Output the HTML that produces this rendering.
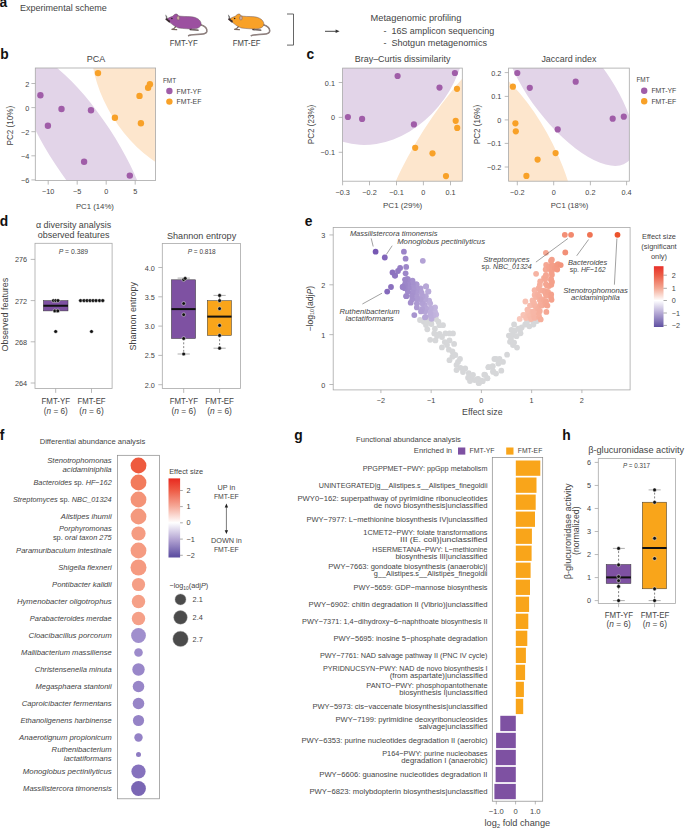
<!DOCTYPE html>
<html><head><meta charset="utf-8"><style>
html,body{margin:0;padding:0;background:#fff;}
svg{display:block;font-family:"Liberation Sans",sans-serif;}
</style></head><body>
<svg width="685" height="829" viewBox="0 0 685 829" fill="#444444">
<text x="-0.40" y="6.80" font-size="13.8" font-weight="bold" fill="#111">a</text>
<text x="20.00" y="11.00" font-size="9" textLength="86.80" lengthAdjust="spacingAndGlyphs">Experimental scheme</text>
<g transform="translate(161.3 10)">
<path d="M39.3 14.8 C43.8 15.8 46.3 18.7 45.5 21.7 C44.7 24.2 40.5 24.4 35 24.5 C31 24.6 28.5 24.9 27.3 25.7" fill="none" stroke="#7e6f6d" stroke-width="1.5" stroke-linecap="round"/>
<path d="M39.3 14.8 C43.8 15.8 46.3 18.7 45.5 21.7 C44.7 24.2 40.5 24.4 35 24.5 C31 24.6 28.5 24.9 27.3 25.7" fill="none" stroke="#a09290" stroke-width="0.6" stroke-linecap="round"/>
<path d="M14.5 16.5 L12.6 18.6 L10.6 19.3 L15.4 19.7" fill="none" stroke="#7a675e" stroke-width="1.2" stroke-linecap="round" stroke-linejoin="round"/><path d="M30 18.2 L28.8 19.6 L36.8 20.2" fill="none" stroke="#4a3c3a" stroke-width="1.3" stroke-linecap="round" stroke-linejoin="round"/>
<path d="M5.0 9.6 C6.2 8.4 8.5 7.2 11.2 6.3 C12.4 5.3 13.3 4.2 14.6 4.0 C15.8 3.9 16.6 4.6 16.9 5.8 C20 6.5 25 6.5 30 6.7 C35.5 7.3 39.5 10 39.8 13.6 C40 16.6 37.5 18.4 33 18.8 C28 19.1 22 18.6 17.5 18 C14.5 17.2 12 15.3 10 13.6 C8.5 12.3 6.5 11.4 5.0 9.6 Z" fill="#9c50a0" stroke="#5c4a55" stroke-width="0.45"/>
<ellipse cx="16.9" cy="8.0" rx="1.45" ry="2.0" fill="#c9aa9f" stroke="#6a5a5a" stroke-width="0.4"/>
<circle cx="10.6" cy="8.6" r="0.75" fill="#222"/>
<path d="M5.6 9.6 L4.4 4.8 M6 9.4 L5.2 5.8 M5.8 10 L7.2 11.8 M6.6 11 L8.4 13" stroke="#333" stroke-width="0.55" fill="none"/>
<path d="M5 9.2 L6.8 10.4 L8 11.2" stroke="#3a2a30" stroke-width="1.7" fill="none" stroke-linecap="round"/>
</g>
<g transform="translate(224 10)">
<path d="M39.3 14.8 C43.8 15.8 46.3 18.7 45.5 21.7 C44.7 24.2 40.5 24.4 35 24.5 C31 24.6 28.5 24.9 27.3 25.7" fill="none" stroke="#7e6f6d" stroke-width="1.5" stroke-linecap="round"/>
<path d="M39.3 14.8 C43.8 15.8 46.3 18.7 45.5 21.7 C44.7 24.2 40.5 24.4 35 24.5 C31 24.6 28.5 24.9 27.3 25.7" fill="none" stroke="#a09290" stroke-width="0.6" stroke-linecap="round"/>
<path d="M14.5 16.5 L12.6 18.6 L10.6 19.3 L15.4 19.7" fill="none" stroke="#7a675e" stroke-width="1.2" stroke-linecap="round" stroke-linejoin="round"/><path d="M30 18.2 L28.8 19.6 L36.8 20.2" fill="none" stroke="#4a3c3a" stroke-width="1.3" stroke-linecap="round" stroke-linejoin="round"/>
<path d="M5.0 9.6 C6.2 8.4 8.5 7.2 11.2 6.3 C12.4 5.3 13.3 4.2 14.6 4.0 C15.8 3.9 16.6 4.6 16.9 5.8 C20 6.5 25 6.5 30 6.7 C35.5 7.3 39.5 10 39.8 13.6 C40 16.6 37.5 18.4 33 18.8 C28 19.1 22 18.6 17.5 18 C14.5 17.2 12 15.3 10 13.6 C8.5 12.3 6.5 11.4 5.0 9.6 Z" fill="#f8a128" stroke="#5c4a55" stroke-width="0.45"/>
<ellipse cx="16.9" cy="8.0" rx="1.45" ry="2.0" fill="#c9aa9f" stroke="#6a5a5a" stroke-width="0.4"/>
<circle cx="10.6" cy="8.6" r="0.75" fill="#222"/>
<path d="M5.6 9.6 L4.4 4.8 M6 9.4 L5.2 5.8 M5.8 10 L7.2 11.8 M6.6 11 L8.4 13" stroke="#333" stroke-width="0.55" fill="none"/>
<path d="M5 9.2 L6.8 10.4 L8 11.2" stroke="#3a2a30" stroke-width="1.7" fill="none" stroke-linecap="round"/>
</g>
<text x="169.70" y="46.00" font-size="8.4" textLength="28.00" lengthAdjust="spacingAndGlyphs">FMT-YF</text>
<text x="232.70" y="46.00" font-size="8.4" textLength="27.80" lengthAdjust="spacingAndGlyphs">FMT-EF</text>
<path d="M287 14 H293.5 V45.1 H287" fill="none" stroke="#555" stroke-width="0.9"/>
<line x1="325.00" y1="31.30" x2="337.00" y2="31.30" stroke="#333" stroke-width="0.9"/>
<path d="M339.6 31.3 L335.6 29.6 L335.6 33 Z" fill="#333"/>
<text x="370.60" y="21.00" font-size="9" textLength="90.80" lengthAdjust="spacingAndGlyphs">Metagenomic profiling</text>
<text x="383.40" y="33.90" font-size="9">-</text>
<text x="391.40" y="33.90" font-size="9" textLength="102.80" lengthAdjust="spacingAndGlyphs">16S amplicon sequencing</text>
<text x="383.40" y="46.10" font-size="9">-</text>
<text x="391.40" y="46.10" font-size="9" textLength="95.60" lengthAdjust="spacingAndGlyphs">Shotgun metagenomics</text>
<text x="0.20" y="58.70" font-size="13.8" font-weight="bold" fill="#111">b</text>
<clipPath id="cpb"><rect x="35.3" y="68" width="120.3" height="112.5"/></clipPath>
<g clip-path="url(#cpb)"><ellipse cx="82.33" cy="146.61" rx="32.35" ry="108.99" fill="#e2d4e8" transform="rotate(-33.3 82.33 146.61)"/><ellipse cx="165" cy="85" rx="98.73" ry="61.35" fill="#fde6cd" transform="rotate(-121.83 165 85)"/></g>
<rect x="35.30" y="68.00" width="120.30" height="112.50" fill="none" stroke="#a8a8a8" stroke-width="0.8"/>
<line x1="31.40" y1="83.50" x2="35.30" y2="83.50" stroke="#a8a8a8" stroke-width="0.8"/>
<text x="29.30" y="86.50" font-size="7.3" text-anchor="end">2</text>
<line x1="31.40" y1="107.60" x2="35.30" y2="107.60" stroke="#a8a8a8" stroke-width="0.8"/>
<text x="29.30" y="110.60" font-size="7.3" text-anchor="end">0</text>
<line x1="31.40" y1="131.70" x2="35.30" y2="131.70" stroke="#a8a8a8" stroke-width="0.8"/>
<text x="29.30" y="134.70" font-size="7.3" text-anchor="end">−2</text>
<line x1="31.40" y1="155.80" x2="35.30" y2="155.80" stroke="#a8a8a8" stroke-width="0.8"/>
<text x="29.30" y="158.80" font-size="7.3" text-anchor="end">−4</text>
<line x1="31.40" y1="179.90" x2="35.30" y2="179.90" stroke="#a8a8a8" stroke-width="0.8"/>
<text x="29.30" y="182.90" font-size="7.3" text-anchor="end">−6</text>
<line x1="48.20" y1="180.50" x2="48.20" y2="184.60" stroke="#a8a8a8" stroke-width="0.8"/>
<text x="48.20" y="194.00" font-size="7.3" text-anchor="middle">−10</text>
<line x1="77.20" y1="180.50" x2="77.20" y2="184.60" stroke="#a8a8a8" stroke-width="0.8"/>
<text x="77.20" y="194.00" font-size="7.3" text-anchor="middle">−5</text>
<line x1="106.20" y1="180.50" x2="106.20" y2="184.60" stroke="#a8a8a8" stroke-width="0.8"/>
<text x="106.20" y="194.00" font-size="7.3" text-anchor="middle">0</text>
<line x1="135.20" y1="180.50" x2="135.20" y2="184.60" stroke="#a8a8a8" stroke-width="0.8"/>
<text x="135.20" y="194.00" font-size="7.3" text-anchor="middle">5</text>
<circle cx="40.40" cy="95.20" r="3.20" fill="#a05da8"/>
<circle cx="47.90" cy="125.70" r="3.20" fill="#a05da8"/>
<circle cx="61.50" cy="109.00" r="3.20" fill="#a05da8"/>
<circle cx="91.00" cy="110.30" r="3.20" fill="#a05da8"/>
<circle cx="84.10" cy="161.70" r="3.20" fill="#a05da8"/>
<circle cx="129.80" cy="175.60" r="3.20" fill="#a05da8"/>
<circle cx="98.00" cy="73.10" r="3.20" fill="#f8a128"/>
<circle cx="114.90" cy="117.70" r="3.20" fill="#f8a128"/>
<circle cx="139.50" cy="95.90" r="3.20" fill="#f8a128"/>
<circle cx="140.90" cy="123.20" r="3.20" fill="#f8a128"/>
<circle cx="148.10" cy="87.70" r="3.20" fill="#f8a128"/>
<circle cx="149.90" cy="84.20" r="3.20" fill="#f8a128"/>
<text x="96.00" y="61.70" font-size="9" text-anchor="middle">PCA</text>
<text x="94.90" y="209.00" font-size="8" text-anchor="middle" textLength="38.00" lengthAdjust="spacingAndGlyphs">PC1 (14%)</text>
<text x="13.30" y="125.70" font-size="8.7" text-anchor="middle" textLength="39.60" lengthAdjust="spacingAndGlyphs" transform="rotate(-90 13.30 125.70)">PC2 (10%)</text>
<text x="162.90" y="82.80" font-size="7.6" textLength="13.20" lengthAdjust="spacingAndGlyphs">FMT</text>
<circle cx="169.40" cy="91.00" r="3.20" fill="#a05da8"/>
<text x="176.50" y="93.60" font-size="7.6" textLength="24.90" lengthAdjust="spacingAndGlyphs">FMT-YF</text>
<circle cx="169.40" cy="101.60" r="3.20" fill="#f8a128"/>
<text x="176.50" y="104.20" font-size="7.6" textLength="24.90" lengthAdjust="spacingAndGlyphs">FMT-EF</text>
<text x="306.50" y="59.30" font-size="13.8" font-weight="bold" fill="#111">c</text>
<clipPath id="cpc"><rect x="342.6" y="68.1" width="119.69999999999999" height="113.1"/></clipPath>
<g clip-path="url(#cpc)"><ellipse cx="379.91" cy="49.29" rx="100.18" ry="80.97" fill="#e2d4e8" transform="rotate(-59.5 379.91 49.29)"/><ellipse cx="480" cy="150" rx="159.33" ry="57.96" fill="#fde6cd" transform="rotate(-55.27 480 150)"/></g>
<rect x="342.60" y="68.10" width="119.70" height="113.10" fill="none" stroke="#a8a8a8" stroke-width="0.8"/>
<line x1="338.70" y1="82.50" x2="342.60" y2="82.50" stroke="#a8a8a8" stroke-width="0.8"/>
<text x="335.00" y="85.50" font-size="7.3" text-anchor="end">0.1</text>
<line x1="338.70" y1="117.40" x2="342.60" y2="117.40" stroke="#a8a8a8" stroke-width="0.8"/>
<text x="335.00" y="120.40" font-size="7.3" text-anchor="end">0</text>
<line x1="338.70" y1="152.30" x2="342.60" y2="152.30" stroke="#a8a8a8" stroke-width="0.8"/>
<text x="335.00" y="155.30" font-size="7.3" text-anchor="end">−0.1</text>
<line x1="342.60" y1="181.20" x2="342.60" y2="185.30" stroke="#a8a8a8" stroke-width="0.8"/>
<text x="342.60" y="194.80" font-size="7.3" text-anchor="middle">−0.3</text>
<line x1="369.50" y1="181.20" x2="369.50" y2="185.30" stroke="#a8a8a8" stroke-width="0.8"/>
<text x="369.50" y="194.80" font-size="7.3" text-anchor="middle">−0.2</text>
<line x1="396.50" y1="181.20" x2="396.50" y2="185.30" stroke="#a8a8a8" stroke-width="0.8"/>
<text x="396.50" y="194.80" font-size="7.3" text-anchor="middle">−0.1</text>
<line x1="423.40" y1="181.20" x2="423.40" y2="185.30" stroke="#a8a8a8" stroke-width="0.8"/>
<text x="423.40" y="194.80" font-size="7.3" text-anchor="middle">0</text>
<line x1="450.50" y1="181.20" x2="450.50" y2="185.30" stroke="#a8a8a8" stroke-width="0.8"/>
<text x="450.50" y="194.80" font-size="7.3" text-anchor="middle">0.1</text>
<circle cx="347.90" cy="117.00" r="3.10" fill="#a05da8"/>
<circle cx="362.10" cy="118.90" r="3.10" fill="#a05da8"/>
<circle cx="397.60" cy="76.00" r="3.10" fill="#a05da8"/>
<circle cx="413.90" cy="124.40" r="3.10" fill="#a05da8"/>
<circle cx="439.50" cy="87.60" r="3.10" fill="#a05da8"/>
<circle cx="454.90" cy="73.00" r="3.10" fill="#a05da8"/>
<circle cx="457.00" cy="88.80" r="3.10" fill="#f8a128"/>
<circle cx="455.70" cy="120.80" r="3.10" fill="#f8a128"/>
<circle cx="457.20" cy="127.90" r="3.10" fill="#f8a128"/>
<circle cx="415.20" cy="147.80" r="3.10" fill="#f8a128"/>
<circle cx="432.50" cy="153.30" r="3.10" fill="#f8a128"/>
<circle cx="446.00" cy="176.10" r="3.10" fill="#f8a128"/>
<text x="402.55" y="62.20" font-size="9" text-anchor="middle" textLength="95.70" lengthAdjust="spacingAndGlyphs">Bray–Curtis dissimilarity</text>
<text x="402.60" y="207.80" font-size="8" text-anchor="middle" textLength="39.20" lengthAdjust="spacingAndGlyphs">PC1 (29%)</text>
<text x="313.90" y="124.45" font-size="8.7" text-anchor="middle" textLength="39.40" lengthAdjust="spacingAndGlyphs" transform="rotate(-90 313.90 124.45)">PC2 (23%)</text>
<clipPath id="cpj"><rect x="508.6" y="68.1" width="120.69999999999993" height="113.1"/></clipPath>
<g clip-path="url(#cpj)"><ellipse cx="568.68" cy="86.7" rx="95.48" ry="38.75" fill="#e2d4e8" transform="rotate(-127.63 568.68 86.7)"/><ellipse cx="500" cy="170" rx="127.68" ry="58.84" fill="#fde6cd" transform="rotate(-116.48 500 170)"/></g>
<rect x="508.60" y="68.10" width="120.70" height="113.10" fill="none" stroke="#a8a8a8" stroke-width="0.8"/>
<line x1="504.70" y1="72.60" x2="508.60" y2="72.60" stroke="#a8a8a8" stroke-width="0.8"/>
<text x="501.40" y="75.60" font-size="7.3" text-anchor="end">0.2</text>
<line x1="504.70" y1="96.40" x2="508.60" y2="96.40" stroke="#a8a8a8" stroke-width="0.8"/>
<text x="501.40" y="99.40" font-size="7.3" text-anchor="end">0.1</text>
<line x1="504.70" y1="119.90" x2="508.60" y2="119.90" stroke="#a8a8a8" stroke-width="0.8"/>
<text x="501.40" y="122.90" font-size="7.3" text-anchor="end">0</text>
<line x1="504.70" y1="143.40" x2="508.60" y2="143.40" stroke="#a8a8a8" stroke-width="0.8"/>
<text x="501.40" y="146.40" font-size="7.3" text-anchor="end">−0.1</text>
<line x1="504.70" y1="167.00" x2="508.60" y2="167.00" stroke="#a8a8a8" stroke-width="0.8"/>
<text x="501.40" y="170.00" font-size="7.3" text-anchor="end">−0.2</text>
<line x1="517.30" y1="181.20" x2="517.30" y2="185.30" stroke="#a8a8a8" stroke-width="0.8"/>
<text x="517.30" y="194.80" font-size="7.3" text-anchor="middle">−0.2</text>
<line x1="553.70" y1="181.20" x2="553.70" y2="185.30" stroke="#a8a8a8" stroke-width="0.8"/>
<text x="553.70" y="194.80" font-size="7.3" text-anchor="middle">0</text>
<line x1="590.40" y1="181.20" x2="590.40" y2="185.30" stroke="#a8a8a8" stroke-width="0.8"/>
<text x="590.40" y="194.80" font-size="7.3" text-anchor="middle">0.2</text>
<line x1="626.60" y1="181.20" x2="626.60" y2="185.30" stroke="#a8a8a8" stroke-width="0.8"/>
<text x="626.60" y="194.80" font-size="7.3" text-anchor="middle">0.4</text>
<circle cx="517.30" cy="73.00" r="3.10" fill="#a05da8"/>
<circle cx="529.80" cy="87.80" r="3.10" fill="#a05da8"/>
<circle cx="575.70" cy="81.70" r="3.10" fill="#a05da8"/>
<circle cx="612.70" cy="118.70" r="3.10" fill="#a05da8"/>
<circle cx="623.80" cy="116.70" r="3.10" fill="#a05da8"/>
<circle cx="557.70" cy="129.40" r="3.10" fill="#a05da8"/>
<circle cx="512.90" cy="86.70" r="3.10" fill="#f8a128"/>
<circle cx="515.40" cy="123.30" r="3.10" fill="#f8a128"/>
<circle cx="515.80" cy="131.30" r="3.10" fill="#f8a128"/>
<circle cx="555.60" cy="153.10" r="3.10" fill="#f8a128"/>
<circle cx="537.60" cy="159.60" r="3.10" fill="#f8a128"/>
<circle cx="526.40" cy="175.90" r="3.10" fill="#f8a128"/>
<text x="568.90" y="62.20" font-size="9" text-anchor="middle" textLength="55.00" lengthAdjust="spacingAndGlyphs">Jaccard index</text>
<text x="569.50" y="207.80" font-size="8" text-anchor="middle" textLength="37.50" lengthAdjust="spacingAndGlyphs">PC1 (18%)</text>
<text x="479.80" y="124.50" font-size="8.7" text-anchor="middle" textLength="39.40" lengthAdjust="spacingAndGlyphs" transform="rotate(-90 479.80 124.50)">PC2 (16%)</text>
<text x="636.40" y="82.30" font-size="7.6" textLength="13.20" lengthAdjust="spacingAndGlyphs">FMT</text>
<circle cx="644.20" cy="90.80" r="3.20" fill="#a05da8"/>
<text x="651.40" y="93.40" font-size="7.6" textLength="24.90" lengthAdjust="spacingAndGlyphs">FMT-YF</text>
<circle cx="644.20" cy="101.20" r="3.20" fill="#f8a128"/>
<text x="651.40" y="103.80" font-size="7.6" textLength="24.90" lengthAdjust="spacingAndGlyphs">FMT-EF</text>
<text x="-0.30" y="225.70" font-size="13.8" font-weight="bold" fill="#111">d</text>
<text x="73.55" y="228.40" font-size="9" text-anchor="middle" textLength="75.30" lengthAdjust="spacingAndGlyphs">α diversity analysis</text>
<text x="73.60" y="238.00" font-size="9" text-anchor="middle" textLength="71.80" lengthAdjust="spacingAndGlyphs">observed features</text>
<text x="201.60" y="238.70" font-size="9" text-anchor="middle" textLength="69.20" lengthAdjust="spacingAndGlyphs">Shannon entropy</text>
<rect x="35.00" y="243.30" width="77.10" height="145.20" fill="none" stroke="#a8a8a8" stroke-width="0.8"/>
<line x1="30.70" y1="259.40" x2="35.00" y2="259.40" stroke="#a8a8a8" stroke-width="0.8"/>
<text x="27.20" y="262.40" font-size="7.3" text-anchor="end">276</text>
<line x1="30.70" y1="300.60" x2="35.00" y2="300.60" stroke="#a8a8a8" stroke-width="0.8"/>
<text x="27.20" y="303.60" font-size="7.3" text-anchor="end">272</text>
<line x1="30.70" y1="341.80" x2="35.00" y2="341.80" stroke="#a8a8a8" stroke-width="0.8"/>
<text x="27.20" y="344.80" font-size="7.3" text-anchor="end">268</text>
<line x1="30.70" y1="383.00" x2="35.00" y2="383.00" stroke="#a8a8a8" stroke-width="0.8"/>
<text x="27.20" y="386.00" font-size="7.3" text-anchor="end">264</text>
<line x1="55.70" y1="388.50" x2="55.70" y2="392.90" stroke="#a8a8a8" stroke-width="0.8"/>
<line x1="91.50" y1="388.50" x2="91.50" y2="392.90" stroke="#a8a8a8" stroke-width="0.8"/>
<text x="73.35" y="254.10" font-size="7.3" text-anchor="middle" textLength="29.30" lengthAdjust="spacingAndGlyphs"><tspan font-style="italic">P</tspan> = 0.389</text>
<rect x="43.40" y="300.60" width="24.60" height="10.30" fill="#7e51a2" stroke="#333" stroke-width="0.5"/>
<line x1="43.40" y1="305.75" x2="68.00" y2="305.75" stroke="#111" stroke-width="2"/>
<line x1="79.70" y1="300.60" x2="103.70" y2="300.60" stroke="#111" stroke-width="2"/>
<circle cx="53.40" cy="300.60" r="1.85" fill="#111" stroke="#fff" stroke-width="0.45"/>
<circle cx="55.70" cy="300.60" r="1.85" fill="#111" stroke="#fff" stroke-width="0.45"/>
<circle cx="58.00" cy="300.60" r="1.85" fill="#111" stroke="#fff" stroke-width="0.45"/>
<circle cx="54.80" cy="310.90" r="1.85" fill="#111" stroke="#fff" stroke-width="0.45"/>
<circle cx="57.80" cy="310.90" r="1.85" fill="#111" stroke="#fff" stroke-width="0.45"/>
<circle cx="55.70" cy="331.50" r="1.85" fill="#111" stroke="#fff" stroke-width="0.45"/>
<circle cx="91.50" cy="331.50" r="1.85" fill="#111" stroke="#fff" stroke-width="0.45"/>
<circle cx="80.50" cy="300.60" r="1.85" fill="#111" stroke="#fff" stroke-width="0.45"/>
<circle cx="84.00" cy="300.60" r="1.85" fill="#111" stroke="#fff" stroke-width="0.45"/>
<circle cx="87.00" cy="300.60" r="1.85" fill="#111" stroke="#fff" stroke-width="0.45"/>
<circle cx="90.00" cy="300.60" r="1.85" fill="#111" stroke="#fff" stroke-width="0.45"/>
<circle cx="93.00" cy="300.60" r="1.85" fill="#111" stroke="#fff" stroke-width="0.45"/>
<circle cx="96.00" cy="300.60" r="1.85" fill="#111" stroke="#fff" stroke-width="0.45"/>
<circle cx="99.50" cy="300.60" r="1.85" fill="#111" stroke="#fff" stroke-width="0.45"/>
<circle cx="102.80" cy="300.60" r="1.85" fill="#111" stroke="#fff" stroke-width="0.45"/>
<text x="55.80" y="404.20" font-size="8.2" text-anchor="middle" textLength="28.60" lengthAdjust="spacingAndGlyphs">FMT-YF</text>
<text x="55.80" y="413.90" font-size="8.2" text-anchor="middle" textLength="24.00" lengthAdjust="spacingAndGlyphs">(<tspan font-style="italic">n</tspan> = 6)</text>
<text x="91.60" y="404.20" font-size="8.2" text-anchor="middle" textLength="28.00" lengthAdjust="spacingAndGlyphs">FMT-EF</text>
<text x="91.45" y="413.90" font-size="8.2" text-anchor="middle" textLength="24.50" lengthAdjust="spacingAndGlyphs">(<tspan font-style="italic">n</tspan> = 6)</text>
<text x="7.80" y="314.60" font-size="8.8" text-anchor="middle" textLength="73.90" lengthAdjust="spacingAndGlyphs" transform="rotate(-90 7.80 314.60)">Observed features</text>
<rect x="162.30" y="243.40" width="78.10" height="145.10" fill="none" stroke="#a8a8a8" stroke-width="0.8"/>
<line x1="158.30" y1="267.50" x2="162.30" y2="267.50" stroke="#a8a8a8" stroke-width="0.8"/>
<text x="154.80" y="270.50" font-size="7.3" text-anchor="end">4.0</text>
<line x1="158.30" y1="296.80" x2="162.30" y2="296.80" stroke="#a8a8a8" stroke-width="0.8"/>
<text x="154.80" y="299.80" font-size="7.3" text-anchor="end">3.5</text>
<line x1="158.30" y1="326.10" x2="162.30" y2="326.10" stroke="#a8a8a8" stroke-width="0.8"/>
<text x="154.80" y="329.10" font-size="7.3" text-anchor="end">3.0</text>
<line x1="158.30" y1="355.40" x2="162.30" y2="355.40" stroke="#a8a8a8" stroke-width="0.8"/>
<text x="154.80" y="358.40" font-size="7.3" text-anchor="end">2.5</text>
<line x1="158.30" y1="384.70" x2="162.30" y2="384.70" stroke="#a8a8a8" stroke-width="0.8"/>
<text x="154.80" y="387.70" font-size="7.3" text-anchor="end">2.0</text>
<line x1="183.70" y1="388.50" x2="183.70" y2="392.90" stroke="#a8a8a8" stroke-width="0.8"/>
<line x1="219.60" y1="388.50" x2="219.60" y2="392.90" stroke="#a8a8a8" stroke-width="0.8"/>
<text x="201.70" y="254.40" font-size="7.3" text-anchor="middle" textLength="28.00" lengthAdjust="spacingAndGlyphs"><tspan font-style="italic">P</tspan> = 0.818</text>
<path d="M183.7 338.5 V354 M219.6 335.4 V348.2" stroke="#333" stroke-width="0.6" stroke-dasharray="2 1.8" fill="none"/>
<line x1="177.60" y1="354.00" x2="189.80" y2="354.00" stroke="#777" stroke-width="0.6"/>
<line x1="177.60" y1="278.10" x2="189.80" y2="278.10" stroke="#777" stroke-width="0.6"/>
<line x1="213.50" y1="348.20" x2="225.70" y2="348.20" stroke="#777" stroke-width="0.6"/>
<line x1="213.50" y1="295.40" x2="225.70" y2="295.40" stroke="#777" stroke-width="0.6"/>
<line x1="219.60" y1="295.40" x2="219.60" y2="300.70" stroke="#333" stroke-width="0.6"/>
<rect x="171.40" y="279.80" width="24.20" height="58.70" fill="#7e51a2" stroke="#333" stroke-width="0.5"/>
<line x1="171.40" y1="309.10" x2="195.60" y2="309.10" stroke="#111" stroke-width="2"/>
<rect x="207.30" y="300.70" width="24.20" height="34.70" fill="#f9a51a" stroke="#333" stroke-width="0.5"/>
<line x1="207.30" y1="316.60" x2="231.50" y2="316.60" stroke="#111" stroke-width="2"/>
<circle cx="183.70" cy="354.00" r="1.85" fill="#111" stroke="#fff" stroke-width="0.45"/>
<circle cx="183.70" cy="338.50" r="1.85" fill="#111" stroke="#fff" stroke-width="0.45"/>
<circle cx="183.70" cy="314.70" r="1.85" fill="#111" stroke="#fff" stroke-width="0.45"/>
<circle cx="183.70" cy="303.50" r="1.85" fill="#111" stroke="#fff" stroke-width="0.45"/>
<circle cx="183.70" cy="279.70" r="1.85" fill="#111" stroke="#fff" stroke-width="0.45"/>
<circle cx="185.20" cy="278.40" r="1.85" fill="#111" stroke="#fff" stroke-width="0.45"/>
<circle cx="219.60" cy="348.20" r="1.85" fill="#111" stroke="#fff" stroke-width="0.45"/>
<circle cx="219.60" cy="335.40" r="1.85" fill="#111" stroke="#fff" stroke-width="0.45"/>
<circle cx="219.60" cy="325.40" r="1.85" fill="#111" stroke="#fff" stroke-width="0.45"/>
<circle cx="219.60" cy="308.70" r="1.85" fill="#111" stroke="#fff" stroke-width="0.45"/>
<circle cx="219.60" cy="300.70" r="1.85" fill="#111" stroke="#fff" stroke-width="0.45"/>
<circle cx="219.60" cy="295.40" r="1.85" fill="#111" stroke="#fff" stroke-width="0.45"/>
<text x="183.90" y="404.20" font-size="8.2" text-anchor="middle" textLength="28.50" lengthAdjust="spacingAndGlyphs">FMT-YF</text>
<text x="183.70" y="413.90" font-size="8.2" text-anchor="middle" textLength="24.60" lengthAdjust="spacingAndGlyphs">(<tspan font-style="italic">n</tspan> = 6)</text>
<text x="219.60" y="404.20" font-size="8.2" text-anchor="middle" textLength="28.80" lengthAdjust="spacingAndGlyphs">FMT-EF</text>
<text x="219.60" y="413.90" font-size="8.2" text-anchor="middle" textLength="24.60" lengthAdjust="spacingAndGlyphs">(<tspan font-style="italic">n</tspan> = 6)</text>
<text x="136.40" y="316.20" font-size="8.8" text-anchor="middle" textLength="68.40" lengthAdjust="spacingAndGlyphs" transform="rotate(-90 136.40 316.20)">Shannon entropy</text>
<text x="304.80" y="226.30" font-size="13.8" font-weight="bold" fill="#111">e</text>
<rect x="333.20" y="227.40" width="296.90" height="162.50" fill="none" stroke="#a8a8a8" stroke-width="0.8"/>
<line x1="329.40" y1="384.50" x2="333.20" y2="384.50" stroke="#a8a8a8" stroke-width="0.8"/>
<text x="325.20" y="387.50" font-size="7.3" text-anchor="end">0</text>
<line x1="329.40" y1="334.65" x2="333.20" y2="334.65" stroke="#a8a8a8" stroke-width="0.8"/>
<text x="325.20" y="337.65" font-size="7.3" text-anchor="end">1</text>
<line x1="329.40" y1="284.80" x2="333.20" y2="284.80" stroke="#a8a8a8" stroke-width="0.8"/>
<text x="325.20" y="287.80" font-size="7.3" text-anchor="end">2</text>
<line x1="329.40" y1="234.95" x2="333.20" y2="234.95" stroke="#a8a8a8" stroke-width="0.8"/>
<text x="325.20" y="237.95" font-size="7.3" text-anchor="end">3</text>
<line x1="380.90" y1="389.90" x2="380.90" y2="393.10" stroke="#a8a8a8" stroke-width="0.8"/>
<text x="380.90" y="402.60" font-size="7.3" text-anchor="middle">−2</text>
<line x1="431.15" y1="389.90" x2="431.15" y2="393.10" stroke="#a8a8a8" stroke-width="0.8"/>
<text x="431.15" y="402.60" font-size="7.3" text-anchor="middle">−1</text>
<line x1="481.40" y1="389.90" x2="481.40" y2="393.10" stroke="#a8a8a8" stroke-width="0.8"/>
<text x="481.40" y="402.60" font-size="7.3" text-anchor="middle">0</text>
<line x1="531.65" y1="389.90" x2="531.65" y2="393.10" stroke="#a8a8a8" stroke-width="0.8"/>
<text x="531.65" y="402.60" font-size="7.3" text-anchor="middle">1</text>
<line x1="581.90" y1="389.90" x2="581.90" y2="393.10" stroke="#a8a8a8" stroke-width="0.8"/>
<text x="581.90" y="402.60" font-size="7.3" text-anchor="middle">2</text>
<text x="482.30" y="415.00" font-size="8.6" text-anchor="middle" textLength="40.50" lengthAdjust="spacingAndGlyphs">Effect size</text>
<text x="313.00" y="308.70" font-size="8.6" text-anchor="middle" transform="rotate(-90 313.00 308.70)">−log<tspan font-size="5.5" dy="1.5">10</tspan><tspan dy="-1.5">(adj</tspan><tspan font-style="italic">P</tspan>)</text>
<circle cx="423.80" cy="321.70" r="2.90" fill="#d6d7d9"/>
<circle cx="427.30" cy="321.70" r="2.90" fill="#d6d7d9"/>
<circle cx="431.40" cy="324.00" r="2.90" fill="#d6d7d9"/>
<circle cx="427.30" cy="329.30" r="2.90" fill="#d6d7d9"/>
<circle cx="434.90" cy="328.70" r="2.90" fill="#d6d7d9"/>
<circle cx="434.30" cy="333.40" r="2.90" fill="#d6d7d9"/>
<circle cx="438.40" cy="321.70" r="2.90" fill="#d6d7d9"/>
<circle cx="439.50" cy="325.20" r="2.90" fill="#d6d7d9"/>
<circle cx="443.00" cy="325.20" r="2.90" fill="#d6d7d9"/>
<circle cx="439.50" cy="333.90" r="2.90" fill="#d6d7d9"/>
<circle cx="445.40" cy="333.40" r="2.90" fill="#d6d7d9"/>
<circle cx="449.50" cy="333.40" r="2.90" fill="#d6d7d9"/>
<circle cx="453.00" cy="333.40" r="2.90" fill="#d6d7d9"/>
<circle cx="430.20" cy="339.80" r="2.90" fill="#d6d7d9"/>
<circle cx="435.40" cy="340.40" r="2.90" fill="#d6d7d9"/>
<circle cx="444.80" cy="342.10" r="2.90" fill="#d6d7d9"/>
<circle cx="449.50" cy="340.40" r="2.90" fill="#d6d7d9"/>
<circle cx="454.10" cy="343.90" r="2.90" fill="#d6d7d9"/>
<circle cx="441.90" cy="347.40" r="2.90" fill="#d6d7d9"/>
<circle cx="448.90" cy="349.70" r="2.90" fill="#d6d7d9"/>
<circle cx="452.40" cy="351.50" r="2.90" fill="#d6d7d9"/>
<circle cx="455.30" cy="355.00" r="2.90" fill="#d6d7d9"/>
<circle cx="452.40" cy="356.70" r="2.90" fill="#d6d7d9"/>
<circle cx="449.50" cy="360.20" r="2.90" fill="#d6d7d9"/>
<circle cx="460.00" cy="359.00" r="2.90" fill="#d6d7d9"/>
<circle cx="456.50" cy="364.90" r="2.90" fill="#d6d7d9"/>
<circle cx="460.50" cy="367.80" r="2.90" fill="#d6d7d9"/>
<circle cx="465.20" cy="368.40" r="2.90" fill="#d6d7d9"/>
<circle cx="456.50" cy="370.10" r="2.90" fill="#d6d7d9"/>
<circle cx="468.70" cy="373.10" r="2.90" fill="#d6d7d9"/>
<circle cx="468.10" cy="377.70" r="2.90" fill="#d6d7d9"/>
<circle cx="471.00" cy="377.20" r="2.90" fill="#d6d7d9"/>
<circle cx="474.60" cy="380.10" r="2.90" fill="#d6d7d9"/>
<circle cx="478.10" cy="378.90" r="2.90" fill="#d6d7d9"/>
<circle cx="478.60" cy="383.00" r="2.90" fill="#d6d7d9"/>
<circle cx="482.70" cy="381.20" r="2.90" fill="#d6d7d9"/>
<circle cx="485.10" cy="374.80" r="2.90" fill="#d6d7d9"/>
<circle cx="487.40" cy="378.30" r="2.90" fill="#d6d7d9"/>
<circle cx="488.60" cy="367.20" r="2.90" fill="#d6d7d9"/>
<circle cx="492.70" cy="366.10" r="2.90" fill="#d6d7d9"/>
<circle cx="493.20" cy="371.90" r="2.90" fill="#d6d7d9"/>
<circle cx="494.40" cy="359.00" r="2.90" fill="#d6d7d9"/>
<circle cx="477.30" cy="379.40" r="2.90" fill="#d6d7d9"/>
<circle cx="479.10" cy="382.90" r="2.90" fill="#d6d7d9"/>
<circle cx="481.40" cy="380.60" r="2.90" fill="#d6d7d9"/>
<circle cx="484.30" cy="374.70" r="2.90" fill="#d6d7d9"/>
<circle cx="487.30" cy="378.20" r="2.90" fill="#d6d7d9"/>
<circle cx="488.40" cy="367.20" r="2.90" fill="#d6d7d9"/>
<circle cx="492.50" cy="366.60" r="2.90" fill="#d6d7d9"/>
<circle cx="493.10" cy="371.20" r="2.90" fill="#d6d7d9"/>
<circle cx="496.00" cy="373.60" r="2.90" fill="#d6d7d9"/>
<circle cx="501.30" cy="370.70" r="2.90" fill="#d6d7d9"/>
<circle cx="496.00" cy="359.00" r="2.90" fill="#d6d7d9"/>
<circle cx="499.50" cy="359.00" r="2.90" fill="#d6d7d9"/>
<circle cx="503.00" cy="361.90" r="2.90" fill="#d6d7d9"/>
<circle cx="498.40" cy="363.60" r="2.90" fill="#d6d7d9"/>
<circle cx="507.10" cy="354.70" r="2.90" fill="#d6d7d9"/>
<circle cx="517.00" cy="347.60" r="2.90" fill="#d6d7d9"/>
<circle cx="510.00" cy="341.80" r="2.90" fill="#d6d7d9"/>
<circle cx="514.10" cy="342.60" r="2.90" fill="#d6d7d9"/>
<circle cx="508.90" cy="335.60" r="2.90" fill="#d6d7d9"/>
<circle cx="512.40" cy="335.00" r="2.90" fill="#d6d7d9"/>
<circle cx="516.50" cy="336.20" r="2.90" fill="#d6d7d9"/>
<circle cx="520.50" cy="333.30" r="2.90" fill="#d6d7d9"/>
<circle cx="514.70" cy="331.00" r="2.90" fill="#d6d7d9"/>
<circle cx="518.20" cy="328.60" r="2.90" fill="#d6d7d9"/>
<circle cx="521.70" cy="327.40" r="2.90" fill="#d6d7d9"/>
<circle cx="514.10" cy="324.50" r="2.90" fill="#d6d7d9"/>
<circle cx="525.20" cy="324.50" r="2.90" fill="#d6d7d9"/>
<circle cx="529.30" cy="326.30" r="2.90" fill="#d6d7d9"/>
<circle cx="533.40" cy="324.50" r="2.90" fill="#d6d7d9"/>
<circle cx="536.90" cy="321.00" r="2.90" fill="#d6d7d9"/>
<circle cx="511.00" cy="339.00" r="2.90" fill="#d6d7d9"/>
<circle cx="513.00" cy="345.00" r="2.90" fill="#d6d7d9"/>
<circle cx="431.00" cy="322.00" r="2.90" fill="#d6d7d9"/>
<circle cx="436.00" cy="319.00" r="2.90" fill="#d6d7d9"/>
<circle cx="429.00" cy="318.00" r="2.90" fill="#d6d7d9"/>
<circle cx="420.00" cy="320.00" r="2.90" fill="#d6d7d9"/>
<circle cx="426.00" cy="325.00" r="2.90" fill="#d6d7d9"/>
<circle cx="511.50" cy="330.00" r="2.90" fill="#d6d7d9"/>
<circle cx="520.00" cy="330.00" r="2.90" fill="#d6d7d9"/>
<circle cx="527.00" cy="322.00" r="2.90" fill="#d6d7d9"/>
<circle cx="532.00" cy="320.00" r="2.90" fill="#d6d7d9"/>
<circle cx="473.00" cy="375.00" r="2.90" fill="#d6d7d9"/>
<circle cx="470.00" cy="381.00" r="2.90" fill="#d6d7d9"/>
<circle cx="463.00" cy="372.00" r="2.90" fill="#d6d7d9"/>
<circle cx="458.00" cy="362.00" r="2.90" fill="#d6d7d9"/>
<circle cx="447.00" cy="345.00" r="2.90" fill="#d6d7d9"/>
<circle cx="442.00" cy="337.00" r="2.90" fill="#d6d7d9"/>
<circle cx="437.00" cy="336.00" r="2.90" fill="#d6d7d9"/>
<circle cx="436.20" cy="314.40" r="2.90" fill="#c5b7df"/>
<circle cx="435.10" cy="307.50" r="2.90" fill="#c3b6de"/>
<circle cx="435.08" cy="311.96" r="2.90" fill="#c3b6de"/>
<circle cx="433.85" cy="308.04" r="2.90" fill="#c1b4dd"/>
<circle cx="433.65" cy="315.30" r="2.90" fill="#c1b3dd"/>
<circle cx="431.50" cy="318.80" r="2.90" fill="#beb0db"/>
<circle cx="430.74" cy="308.48" r="2.90" fill="#bdafdb"/>
<circle cx="430.55" cy="315.34" r="2.90" fill="#bdafdb"/>
<circle cx="430.35" cy="312.80" r="2.90" fill="#bdaedb"/>
<circle cx="430.16" cy="303.29" r="2.90" fill="#bdaeda"/>
<circle cx="429.15" cy="300.75" r="2.90" fill="#bbacda"/>
<circle cx="428.40" cy="291.40" r="2.90" fill="#baabd9"/>
<circle cx="428.20" cy="291.60" r="2.90" fill="#baabd9"/>
<circle cx="426.51" cy="308.61" r="2.90" fill="#b8a8d8"/>
<circle cx="426.10" cy="286.40" r="2.90" fill="#b7a7d7"/>
<circle cx="426.00" cy="286.30" r="2.90" fill="#b7a7d7"/>
<circle cx="425.83" cy="296.24" r="2.90" fill="#b7a7d7"/>
<circle cx="425.60" cy="316.89" r="2.90" fill="#b7a7d7"/>
<circle cx="425.19" cy="311.41" r="2.90" fill="#b6a6d7"/>
<circle cx="425.00" cy="299.73" r="2.90" fill="#b6a6d7"/>
<circle cx="424.90" cy="317.30" r="2.90" fill="#b6a6d7"/>
<circle cx="424.85" cy="304.90" r="2.90" fill="#b6a5d7"/>
<circle cx="422.80" cy="260.80" r="2.90" fill="#b3a2d5"/>
<circle cx="422.41" cy="296.38" r="2.90" fill="#b3a2d5"/>
<circle cx="422.16" cy="303.32" r="2.90" fill="#b2a1d5"/>
<circle cx="422.12" cy="308.97" r="2.90" fill="#b2a1d5"/>
<circle cx="421.60" cy="292.77" r="2.90" fill="#b2a0d4"/>
<circle cx="420.94" cy="311.45" r="2.90" fill="#b19fd4"/>
<circle cx="420.62" cy="288.40" r="2.90" fill="#b09fd4"/>
<circle cx="420.50" cy="299.30" r="2.90" fill="#b09fd3"/>
<circle cx="417.15" cy="288.33" r="2.90" fill="#ac99d1"/>
<circle cx="416.94" cy="296.13" r="2.90" fill="#ac99d1"/>
<circle cx="416.89" cy="303.53" r="2.90" fill="#ac99d1"/>
<circle cx="416.88" cy="299.11" r="2.90" fill="#ac99d1"/>
<circle cx="416.86" cy="307.45" r="2.90" fill="#ac99d1"/>
<circle cx="416.50" cy="284.40" r="2.90" fill="#ab98d1"/>
<circle cx="416.50" cy="284.50" r="2.90" fill="#ab98d1"/>
<circle cx="416.36" cy="291.90" r="2.90" fill="#ab98d1"/>
<circle cx="414.30" cy="315.10" r="2.90" fill="#a895cf"/>
<circle cx="413.58" cy="288.89" r="2.90" fill="#a794cf"/>
<circle cx="412.95" cy="284.75" r="2.90" fill="#a693ce"/>
<circle cx="412.68" cy="292.74" r="2.90" fill="#a692ce"/>
<circle cx="412.52" cy="280.63" r="2.90" fill="#a692ce"/>
<circle cx="412.50" cy="282.30" r="2.90" fill="#a692ce"/>
<circle cx="412.32" cy="299.32" r="2.90" fill="#a692ce"/>
<circle cx="412.00" cy="282.00" r="2.90" fill="#a591cd"/>
<circle cx="411.91" cy="295.84" r="2.90" fill="#a591cd"/>
<circle cx="410.70" cy="302.70" r="2.90" fill="#a48fcc"/>
<circle cx="408.76" cy="287.91" r="2.90" fill="#a18ccb"/>
<circle cx="408.09" cy="284.15" r="2.90" fill="#a08bcb"/>
<circle cx="407.89" cy="279.24" r="2.90" fill="#a08bca"/>
<circle cx="407.86" cy="291.50" r="2.90" fill="#a08bca"/>
<circle cx="407.10" cy="279.10" r="2.90" fill="#9f89ca"/>
<circle cx="407.00" cy="279.40" r="2.90" fill="#9f89ca"/>
<circle cx="406.30" cy="296.20" r="2.90" fill="#9e88c9"/>
<circle cx="406.20" cy="266.90" r="2.90" fill="#9e88c9"/>
<circle cx="406.20" cy="296.10" r="2.90" fill="#9e88c9"/>
<circle cx="405.60" cy="258.70" r="2.90" fill="#9d87c9"/>
<circle cx="405.60" cy="273.30" r="2.90" fill="#9d87c9"/>
<circle cx="405.02" cy="279.58" r="2.90" fill="#9c86c8"/>
<circle cx="404.89" cy="284.40" r="2.90" fill="#9c86c8"/>
<circle cx="404.69" cy="288.19" r="2.90" fill="#9c86c8"/>
<circle cx="403.90" cy="251.70" r="2.90" fill="#9b84c8"/>
<circle cx="402.70" cy="287.00" r="2.90" fill="#9982c7"/>
<circle cx="402.70" cy="287.00" r="2.90" fill="#9982c7"/>
<circle cx="400.10" cy="268.00" r="2.90" fill="#967ec5"/>
<circle cx="398.00" cy="271.00" r="2.90" fill="#937bc3"/>
<circle cx="395.10" cy="275.60" r="2.90" fill="#8f76c1"/>
<circle cx="394.90" cy="275.60" r="2.90" fill="#8f76c1"/>
<circle cx="392.50" cy="272.50" r="2.90" fill="#8c72bf"/>
<circle cx="391.00" cy="287.00" r="2.90" fill="#8a70be"/>
<circle cx="387.20" cy="291.60" r="2.90" fill="#856abc"/>
<circle cx="384.80" cy="257.50" r="2.90" fill="#8266ba"/>
<circle cx="375.60" cy="251.70" r="2.90" fill="#7658b3"/>
<circle cx="519.70" cy="318.90" r="2.90" fill="#f9c8bc"/>
<circle cx="523.30" cy="314.80" r="2.90" fill="#f8c4b6"/>
<circle cx="524.00" cy="315.20" r="2.90" fill="#f8c3b5"/>
<circle cx="525.40" cy="301.50" r="2.90" fill="#f8c1b3"/>
<circle cx="526.00" cy="318.00" r="2.90" fill="#f8c0b2"/>
<circle cx="527.14" cy="316.68" r="2.90" fill="#f8bfb0"/>
<circle cx="527.40" cy="309.70" r="2.90" fill="#f8beb0"/>
<circle cx="528.00" cy="312.00" r="2.90" fill="#f8beaf"/>
<circle cx="528.64" cy="310.86" r="2.90" fill="#f8bdae"/>
<circle cx="529.50" cy="315.80" r="2.90" fill="#f7bcac"/>
<circle cx="530.00" cy="305.60" r="2.90" fill="#f7bbac"/>
<circle cx="531.00" cy="319.00" r="2.90" fill="#f7baaa"/>
<circle cx="532.50" cy="300.50" r="2.90" fill="#f7b8a8"/>
<circle cx="532.50" cy="311.70" r="2.90" fill="#f7b8a8"/>
<circle cx="533.13" cy="301.33" r="2.90" fill="#f7b7a7"/>
<circle cx="533.51" cy="315.53" r="2.90" fill="#f7b7a6"/>
<circle cx="533.99" cy="311.67" r="2.90" fill="#f7b6a6"/>
<circle cx="534.00" cy="303.00" r="2.90" fill="#f7b6a5"/>
<circle cx="534.52" cy="305.38" r="2.90" fill="#f7b5a5"/>
<circle cx="534.60" cy="290.20" r="2.90" fill="#f7b5a5"/>
<circle cx="534.60" cy="317.90" r="2.90" fill="#f7b5a5"/>
<circle cx="534.64" cy="294.92" r="2.90" fill="#f7b5a5"/>
<circle cx="535.60" cy="306.60" r="2.90" fill="#f7b4a3"/>
<circle cx="536.00" cy="297.00" r="2.90" fill="#f6b3a2"/>
<circle cx="536.10" cy="273.80" r="2.90" fill="#f6b3a2"/>
<circle cx="537.70" cy="294.30" r="2.90" fill="#f6b1a0"/>
<circle cx="538.00" cy="309.00" r="2.90" fill="#f6b19f"/>
<circle cx="538.70" cy="288.20" r="2.90" fill="#f6b09e"/>
<circle cx="538.70" cy="313.80" r="2.90" fill="#f6b09e"/>
<circle cx="539.17" cy="316.88" r="2.90" fill="#f6b09e"/>
<circle cx="539.30" cy="296.24" r="2.90" fill="#f6af9d"/>
<circle cx="539.79" cy="311.01" r="2.90" fill="#f6af9d"/>
<circle cx="539.80" cy="284.97" r="2.90" fill="#f6af9d"/>
<circle cx="539.91" cy="300.28" r="2.90" fill="#f6af9c"/>
<circle cx="540.00" cy="305.16" r="2.90" fill="#f6af9c"/>
<circle cx="540.20" cy="281.50" r="2.90" fill="#f6ae9c"/>
<circle cx="540.25" cy="290.22" r="2.90" fill="#f6ae9c"/>
<circle cx="540.70" cy="319.40" r="2.90" fill="#f6ae9b"/>
<circle cx="541.80" cy="299.40" r="2.90" fill="#f6ac9a"/>
<circle cx="541.80" cy="305.60" r="2.90" fill="#f6ac9a"/>
<circle cx="542.80" cy="290.70" r="2.90" fill="#f6ab98"/>
<circle cx="544.00" cy="278.00" r="2.90" fill="#f5aa96"/>
<circle cx="544.00" cy="301.00" r="2.90" fill="#f5aa96"/>
<circle cx="545.13" cy="291.17" r="2.90" fill="#f5a895"/>
<circle cx="545.15" cy="279.28" r="2.90" fill="#f5a895"/>
<circle cx="545.40" cy="293.30" r="2.90" fill="#f5a894"/>
<circle cx="545.65" cy="269.44" r="2.90" fill="#f5a894"/>
<circle cx="545.69" cy="304.84" r="2.90" fill="#f5a894"/>
<circle cx="545.90" cy="252.80" r="2.90" fill="#f5a793"/>
<circle cx="545.90" cy="275.90" r="2.90" fill="#f5a793"/>
<circle cx="545.90" cy="284.10" r="2.90" fill="#f5a793"/>
<circle cx="546.02" cy="274.99" r="2.90" fill="#f5a793"/>
<circle cx="546.11" cy="301.45" r="2.90" fill="#f5a793"/>
<circle cx="546.14" cy="295.80" r="2.90" fill="#f5a793"/>
<circle cx="546.17" cy="265.01" r="2.90" fill="#f5a793"/>
<circle cx="546.38" cy="311.96" r="2.90" fill="#f5a793"/>
<circle cx="546.98" cy="285.66" r="2.90" fill="#f5a692"/>
<circle cx="547.40" cy="305.60" r="2.90" fill="#f5a591"/>
<circle cx="548.00" cy="292.00" r="2.90" fill="#f5a590"/>
<circle cx="548.90" cy="266.60" r="2.90" fill="#f5a48f"/>
<circle cx="548.90" cy="286.10" r="2.90" fill="#f5a48f"/>
<circle cx="549.50" cy="269.00" r="2.90" fill="#f5a38e"/>
<circle cx="551.00" cy="261.00" r="2.90" fill="#f4a18c"/>
<circle cx="551.00" cy="279.00" r="2.90" fill="#f4a18c"/>
<circle cx="551.00" cy="297.40" r="2.90" fill="#f4a18c"/>
<circle cx="551.15" cy="280.14" r="2.90" fill="#f4a18c"/>
<circle cx="551.18" cy="294.52" r="2.90" fill="#f4a18c"/>
<circle cx="551.32" cy="284.86" r="2.90" fill="#f4a18b"/>
<circle cx="551.50" cy="271.80" r="2.90" fill="#f4a08b"/>
<circle cx="551.54" cy="299.86" r="2.90" fill="#f4a08b"/>
<circle cx="551.84" cy="265.04" r="2.90" fill="#f4a08b"/>
<circle cx="551.87" cy="259.74" r="2.90" fill="#f4a08b"/>
<circle cx="551.90" cy="274.67" r="2.90" fill="#f4a08a"/>
<circle cx="552.00" cy="282.00" r="2.90" fill="#f4a08a"/>
<circle cx="552.11" cy="269.97" r="2.90" fill="#f4a08a"/>
<circle cx="553.00" cy="265.60" r="2.90" fill="#f49f89"/>
<circle cx="555.00" cy="268.00" r="2.90" fill="#f49c86"/>
<circle cx="557.10" cy="265.10" r="2.90" fill="#f49a83"/>
<circle cx="557.21" cy="269.52" r="2.90" fill="#f49a83"/>
<circle cx="558.00" cy="264.26" r="2.90" fill="#f39981"/>
<circle cx="560.70" cy="265.10" r="2.90" fill="#f3957d"/>
<circle cx="564.80" cy="234.80" r="2.90" fill="#f39077"/>
<circle cx="565.30" cy="252.50" r="2.90" fill="#f29077"/>
<circle cx="571.10" cy="234.80" r="2.90" fill="#f2896e"/>
<circle cx="589.90" cy="234.80" r="2.90" fill="#ef7353"/>
<circle cx="617.50" cy="234.80" r="2.90" fill="#ec532c"/>
<text x="349.90" y="236.30" font-size="7.9" textLength="87.50" lengthAdjust="spacingAndGlyphs" font-style="italic">Massilistercora timonensis</text>
<text x="397.20" y="244.20" font-size="7.9" textLength="87.80" lengthAdjust="spacingAndGlyphs" font-style="italic">Monoglobus pectinilyticus</text>
<text x="339.60" y="313.70" font-size="7.9" textLength="59.90" lengthAdjust="spacingAndGlyphs" font-style="italic">Ruthenibacterium</text>
<text x="345.50" y="321.00" font-size="7.9" textLength="48.10" lengthAdjust="spacingAndGlyphs" font-style="italic">lactatiformans</text>
<text x="483.20" y="262.00" font-size="7.9" textLength="46.40" lengthAdjust="spacingAndGlyphs" font-style="italic">Streptomyces</text>
<text x="481.60" y="269.30" font-size="7.9" textLength="50.20" lengthAdjust="spacingAndGlyphs">sp. <tspan font-style="italic">NBC_01324</tspan></text>
<text x="567.90" y="264.50" font-size="7.9" textLength="39.30" lengthAdjust="spacingAndGlyphs" font-style="italic">Bacteroides</text>
<text x="569.80" y="271.80" font-size="7.9" textLength="35.80" lengthAdjust="spacingAndGlyphs">sp. <tspan font-style="italic">HF−162</tspan></text>
<text x="563.20" y="292.80" font-size="7.9" textLength="64.70" lengthAdjust="spacingAndGlyphs" font-style="italic">Stenotrophomonas</text>
<text x="571.10" y="300.00" font-size="7.9" textLength="48.60" lengthAdjust="spacingAndGlyphs" font-style="italic">acidaminiphila</text>
<line x1="371.20" y1="238.40" x2="373.20" y2="246.50" stroke="#444" stroke-width="0.5"/>
<line x1="392.20" y1="245.70" x2="386.40" y2="254.40" stroke="#444" stroke-width="0.5"/>
<line x1="362.40" y1="304.00" x2="382.00" y2="293.20" stroke="#444" stroke-width="0.5"/>
<line x1="535.90" y1="262.10" x2="567.90" y2="238.50" stroke="#444" stroke-width="0.5"/>
<line x1="576.70" y1="255.80" x2="588.60" y2="239.50" stroke="#444" stroke-width="0.5"/>
<line x1="614.40" y1="284.70" x2="616.90" y2="238.50" stroke="#444" stroke-width="0.5"/>
<linearGradient id="gcb" x1="0" y1="0" x2="0" y2="1"><stop offset="0" stop-color="#e8302a"/><stop offset="0.148" stop-color="#ec5d47"/><stop offset="0.363" stop-color="#f4a994"/><stop offset="0.564" stop-color="#ffffff"/><stop offset="0.77" stop-color="#b5a9d5"/><stop offset="0.974" stop-color="#6a5ba8"/><stop offset="1" stop-color="#5d4e9f"/></linearGradient>
<rect x="653.90" y="266.20" width="9.60" height="60.80" fill="url(#gcb)"/>
<text x="659.00" y="238.50" font-size="7.4" text-anchor="middle">Effect size</text>
<text x="659.00" y="248.90" font-size="7.4" text-anchor="middle">(significant</text>
<text x="659.00" y="258.90" font-size="7.4" text-anchor="middle">only)</text>
<line x1="663.50" y1="275.20" x2="666.90" y2="275.20" stroke="#555" stroke-width="0.5"/>
<text x="671.70" y="277.90" font-size="7.2">2</text>
<line x1="663.50" y1="288.30" x2="666.90" y2="288.30" stroke="#555" stroke-width="0.5"/>
<text x="671.70" y="291.00" font-size="7.2">1</text>
<line x1="663.50" y1="300.50" x2="666.90" y2="300.50" stroke="#555" stroke-width="0.5"/>
<text x="671.70" y="303.20" font-size="7.2">0</text>
<line x1="663.50" y1="313.00" x2="666.90" y2="313.00" stroke="#555" stroke-width="0.5"/>
<text x="671.70" y="315.70" font-size="7.2">−1</text>
<line x1="663.50" y1="325.40" x2="666.90" y2="325.40" stroke="#555" stroke-width="0.5"/>
<text x="671.70" y="328.10" font-size="7.2">−2</text>
<text x="-0.20" y="440.40" font-size="13.8" font-weight="bold" fill="#111">f</text>
<text x="39.70" y="444.10" font-size="7.6" textLength="105.50" lengthAdjust="spacingAndGlyphs">Differential abundance analysis</text>
<rect x="117.40" y="455.30" width="42.00" height="343.50" fill="none" stroke="#888" stroke-width="0.7"/>
<circle cx="138.50" cy="465.50" r="7.90" fill="#ee5a3e"/>
<text x="47.20" y="463.30" font-size="7.8" textLength="64.50" lengthAdjust="spacingAndGlyphs" font-style="italic">Stenotrophomonas</text>
<text x="62.50" y="471.70" font-size="7.8" textLength="49.20" lengthAdjust="spacingAndGlyphs" font-style="italic">acidaminiphila</text>
<circle cx="138.50" cy="482.50" r="7.90" fill="#f27b5c"/>
<text x="33.50" y="484.90" font-size="7.8" textLength="78.20" lengthAdjust="spacingAndGlyphs" font-style="italic">Bacteroides <tspan font-style="normal">sp.</tspan> HF−162</text>
<circle cx="138.50" cy="499.50" r="7.90" fill="#f49377"/>
<text x="12.90" y="501.90" font-size="7.8" textLength="98.80" lengthAdjust="spacingAndGlyphs" font-style="italic">Streptomyces <tspan font-style="normal">sp.</tspan> NBC_01324</text>
<circle cx="138.50" cy="516.50" r="7.90" fill="#f4997e"/>
<text x="60.80" y="518.90" font-size="7.8" textLength="50.90" lengthAdjust="spacingAndGlyphs" font-style="italic">Alistipes ihumii</text>
<circle cx="138.50" cy="533.50" r="7.10" fill="#f59c82"/>
<text x="59.10" y="531.30" font-size="7.8" textLength="52.60" lengthAdjust="spacingAndGlyphs" font-style="italic">Porphyromonas</text>
<text x="52.90" y="539.70" font-size="7.8" textLength="58.80" lengthAdjust="spacingAndGlyphs" font-style="italic"><tspan font-style="normal">sp.</tspan> oral taxon 275</text>
<circle cx="138.50" cy="550.50" r="7.90" fill="#f59b81"/>
<text x="16.10" y="552.90" font-size="7.8" textLength="95.60" lengthAdjust="spacingAndGlyphs" font-style="italic">Paramuribaculum intestinale</text>
<circle cx="138.50" cy="567.50" r="8.00" fill="#f59a80"/>
<text x="58.30" y="569.90" font-size="7.8" textLength="53.40" lengthAdjust="spacingAndGlyphs" font-style="italic">Shigella flexneri</text>
<circle cx="138.50" cy="584.50" r="6.60" fill="#f59f86"/>
<text x="52.10" y="586.90" font-size="7.8" textLength="59.60" lengthAdjust="spacingAndGlyphs" font-style="italic">Pontibacter kalidii</text>
<circle cx="138.50" cy="601.50" r="6.70" fill="#f5a087"/>
<text x="16.90" y="603.90" font-size="7.8" textLength="94.80" lengthAdjust="spacingAndGlyphs" font-style="italic">Hymenobacter oligotrophus</text>
<circle cx="138.50" cy="618.50" r="6.70" fill="#f5a088"/>
<text x="29.80" y="620.90" font-size="7.8" textLength="81.90" lengthAdjust="spacingAndGlyphs" font-style="italic">Parabacteroides merdae</text>
<circle cx="138.50" cy="635.50" r="7.40" fill="#a08fcd"/>
<text x="28.50" y="637.90" font-size="7.8" textLength="83.20" lengthAdjust="spacingAndGlyphs" font-style="italic">Cloacibacillus porcorum</text>
<circle cx="138.50" cy="652.50" r="4.30" fill="#9d8bcb"/>
<text x="21.10" y="654.90" font-size="7.8" textLength="90.60" lengthAdjust="spacingAndGlyphs" font-style="italic">Maliibacterium massiliense</text>
<circle cx="138.50" cy="669.50" r="6.20" fill="#9987c9"/>
<text x="34.70" y="671.90" font-size="7.8" textLength="77.00" lengthAdjust="spacingAndGlyphs" font-style="italic">Christensenella minuta</text>
<circle cx="138.50" cy="686.50" r="5.80" fill="#9886c8"/>
<text x="35.50" y="688.90" font-size="7.8" textLength="76.20" lengthAdjust="spacingAndGlyphs" font-style="italic">Megasphaera stantonii</text>
<circle cx="138.50" cy="703.50" r="5.80" fill="#9785c7"/>
<text x="21.80" y="705.90" font-size="7.8" textLength="89.90" lengthAdjust="spacingAndGlyphs" font-style="italic">Caproicibacter fermentans</text>
<circle cx="138.50" cy="720.50" r="5.60" fill="#9583c6"/>
<text x="20.40" y="722.90" font-size="7.8" textLength="91.30" lengthAdjust="spacingAndGlyphs" font-style="italic">Ethanoligenens harbinense</text>
<circle cx="138.50" cy="737.50" r="4.20" fill="#9482c6"/>
<text x="19.10" y="739.90" font-size="7.8" textLength="92.60" lengthAdjust="spacingAndGlyphs" font-style="italic">Anaerotignum propionicum</text>
<circle cx="138.50" cy="754.50" r="2.50" fill="#8e7bc2"/>
<text x="51.60" y="752.30" font-size="7.8" textLength="60.10" lengthAdjust="spacingAndGlyphs" font-style="italic">Ruthenibacterium</text>
<text x="63.80" y="760.70" font-size="7.8" textLength="47.90" lengthAdjust="spacingAndGlyphs" font-style="italic">lactatiformans</text>
<circle cx="138.50" cy="771.50" r="7.10" fill="#8672bd"/>
<text x="22.80" y="773.90" font-size="7.8" textLength="88.90" lengthAdjust="spacingAndGlyphs" font-style="italic">Monoglobus pectinilyticus</text>
<circle cx="138.50" cy="788.50" r="7.40" fill="#7a66b4"/>
<text x="23.10" y="790.90" font-size="7.8" textLength="88.60" lengthAdjust="spacingAndGlyphs" font-style="italic">Massilistercora timonensis</text>
<text x="169.20" y="474.20" font-size="7.4" textLength="33.90" lengthAdjust="spacingAndGlyphs">Effect size</text>
<linearGradient id="gcf" x1="0" y1="0" x2="0" y2="1"><stop offset="0" stop-color="#e8291f"/><stop offset="0.15" stop-color="#ee5b45"/><stop offset="0.35" stop-color="#f5a796"/><stop offset="0.56" stop-color="#ffffff"/><stop offset="0.77" stop-color="#b4a5d3"/><stop offset="0.97" stop-color="#6354a5"/><stop offset="1" stop-color="#5d4fa0"/></linearGradient>
<rect x="168.50" y="478.40" width="11.60" height="79.10" fill="url(#gcf)"/>
<line x1="180.10" y1="490.50" x2="182.80" y2="490.50" stroke="#555" stroke-width="0.5"/>
<text x="186.50" y="493.00" font-size="7.3">2</text>
<line x1="180.10" y1="506.60" x2="182.80" y2="506.60" stroke="#555" stroke-width="0.5"/>
<text x="186.50" y="509.10" font-size="7.3">1</text>
<line x1="180.10" y1="522.80" x2="182.80" y2="522.80" stroke="#555" stroke-width="0.5"/>
<text x="186.50" y="525.30" font-size="7.3">0</text>
<line x1="180.10" y1="539.10" x2="182.80" y2="539.10" stroke="#555" stroke-width="0.5"/>
<text x="186.50" y="541.60" font-size="7.3">−1</text>
<line x1="180.10" y1="555.30" x2="182.80" y2="555.30" stroke="#555" stroke-width="0.5"/>
<text x="186.50" y="557.80" font-size="7.3">−2</text>
<text x="226.40" y="489.60" font-size="7.3" text-anchor="middle">UP in</text>
<text x="226.30" y="499.40" font-size="7.3" text-anchor="middle" textLength="24.70" lengthAdjust="spacingAndGlyphs">FMT-EF</text>
<line x1="226.40" y1="506.00" x2="226.40" y2="531.60" stroke="#222" stroke-width="0.6"/>
<path d="M226.4 503.6 L224.7 507.4 L228.1 507.4 Z M226.4 534 L224.7 530.2 L228.1 530.2 Z" fill="#222"/>
<text x="226.40" y="543.00" font-size="7.3" text-anchor="middle" textLength="30.70" lengthAdjust="spacingAndGlyphs">DOWN in</text>
<text x="226.30" y="552.20" font-size="7.3" text-anchor="middle" textLength="24.70" lengthAdjust="spacingAndGlyphs">FMT-EF</text>
<text x="169.40" y="588.40" font-size="7.4" textLength="38.80" lengthAdjust="spacingAndGlyphs">−log<tspan font-size="5" dy="1.5">10</tspan><tspan dy="-1.5">(adj</tspan><tspan font-style="italic">P</tspan>)</text>
<circle cx="180.50" cy="599.40" r="5.50" fill="#4b4b4b" stroke="#9a9a9a" stroke-width="0.4"/>
<text x="192.60" y="602.00" font-size="7.3">2.1</text>
<circle cx="180.50" cy="617.40" r="6.80" fill="#4b4b4b" stroke="#9a9a9a" stroke-width="0.4"/>
<text x="192.60" y="620.00" font-size="7.3">2.4</text>
<circle cx="180.50" cy="638.90" r="7.70" fill="#4b4b4b" stroke="#9a9a9a" stroke-width="0.4"/>
<text x="192.60" y="641.50" font-size="7.3">2.7</text>
<text x="294.30" y="440.30" font-size="13.8" font-weight="bold" fill="#111">g</text>
<text x="356.00" y="442.30" font-size="7.6" textLength="104.90" lengthAdjust="spacingAndGlyphs">Functional abundance analysis</text>
<text x="413.80" y="453.00" font-size="7.6" textLength="38.30" lengthAdjust="spacingAndGlyphs">Enriched in</text>
<rect x="458.00" y="447.50" width="7.30" height="7.10" fill="#7e51a2"/>
<text x="469.60" y="453.00" font-size="7.6" textLength="25.00" lengthAdjust="spacingAndGlyphs">FMT-YF</text>
<rect x="506.20" y="447.50" width="7.30" height="7.10" fill="#f9a51a"/>
<text x="517.80" y="453.00" font-size="7.6" textLength="24.50" lengthAdjust="spacingAndGlyphs">FMT-EF</text>
<rect x="492.30" y="457.50" width="50.40" height="343.70" fill="none" stroke="#888" stroke-width="0.7"/>
<rect x="515.80" y="460.50" width="24.50" height="15.30" fill="#f9a51a"/>
<text x="362.70" y="470.70" font-size="7.8" textLength="124.80" lengthAdjust="spacingAndGlyphs">PPGPPMET−PWY: ppGpp metabolism</text>
<rect x="515.80" y="477.52" width="20.70" height="15.30" fill="#f9a51a"/>
<text x="318.80" y="487.72" font-size="7.8" textLength="168.70" lengthAdjust="spacingAndGlyphs">UNINTEGRATED|g__Alistipes.s__Alistipes_finegoldii</text>
<rect x="515.80" y="494.54" width="19.90" height="15.30" fill="#f9a51a"/>
<text x="297.50" y="500.74" font-size="7.8" textLength="190.00" lengthAdjust="spacingAndGlyphs">PWY0−162: superpathway of pyrimidine ribonucleotides</text>
<text x="373.80" y="507.74" font-size="7.8" textLength="113.70" lengthAdjust="spacingAndGlyphs">de novo biosynthesis|unclassified</text>
<rect x="515.80" y="511.56" width="19.20" height="15.30" fill="#f9a51a"/>
<text x="306.50" y="521.76" font-size="7.8" textLength="181.00" lengthAdjust="spacingAndGlyphs">PWY−7977: L−methionine biosynthesis IV|unclassified</text>
<rect x="515.80" y="528.58" width="16.10" height="15.30" fill="#f9a51a"/>
<text x="363.30" y="534.78" font-size="7.8" textLength="124.20" lengthAdjust="spacingAndGlyphs">1CMET2−PWY: folate transformations</text>
<text x="400.10" y="541.78" font-size="7.8" textLength="87.40" lengthAdjust="spacingAndGlyphs">III (E. coli)|unclassified</text>
<rect x="515.80" y="545.60" width="15.80" height="15.30" fill="#f9a51a"/>
<text x="372.30" y="551.80" font-size="7.8" textLength="115.20" lengthAdjust="spacingAndGlyphs">HSERMETANA−PWY: L−methionine</text>
<text x="395.40" y="558.80" font-size="7.8" textLength="92.10" lengthAdjust="spacingAndGlyphs">biosynthesis III|unclassified</text>
<rect x="515.80" y="562.62" width="14.80" height="15.30" fill="#f9a51a"/>
<text x="328.30" y="568.82" font-size="7.8" textLength="159.20" lengthAdjust="spacingAndGlyphs">PWY−7663: gondoate biosynthesis (anaerobic)|</text>
<text x="373.80" y="575.82" font-size="7.8" textLength="113.70" lengthAdjust="spacingAndGlyphs">g__Alistipes.s__Alistipes_finegoldii</text>
<rect x="515.80" y="579.64" width="14.20" height="15.30" fill="#f9a51a"/>
<text x="353.50" y="589.84" font-size="7.8" textLength="134.00" lengthAdjust="spacingAndGlyphs">PWY−5659: GDP−mannose biosynthesis</text>
<rect x="515.80" y="596.66" width="13.30" height="15.30" fill="#f9a51a"/>
<text x="308.60" y="606.86" font-size="7.8" textLength="178.90" lengthAdjust="spacingAndGlyphs">PWY−6902: chitin degradation II (Vibrio)|unclassified</text>
<rect x="515.80" y="613.68" width="12.50" height="15.30" fill="#f9a51a"/>
<text x="302.00" y="623.88" font-size="7.8" textLength="185.50" lengthAdjust="spacingAndGlyphs">PWY−7371: 1,4−dihydroxy−6−naphthoate biosynthesis II</text>
<rect x="515.80" y="630.70" width="11.50" height="15.30" fill="#f9a51a"/>
<text x="333.40" y="640.90" font-size="7.8" textLength="154.10" lengthAdjust="spacingAndGlyphs">PWY−5695: inosine 5−phosphate degradation</text>
<rect x="515.80" y="647.72" width="10.10" height="15.30" fill="#f9a51a"/>
<text x="319.90" y="657.92" font-size="7.8" textLength="167.60" lengthAdjust="spacingAndGlyphs">PWY−7761: NAD salvage pathway II (PNC IV cycle)</text>
<rect x="515.80" y="664.74" width="9.30" height="15.30" fill="#f9a51a"/>
<text x="322.90" y="670.94" font-size="7.8" textLength="164.60" lengthAdjust="spacingAndGlyphs">PYRIDNUCSYN−PWY: NAD de novo biosynthesis I</text>
<text x="389.70" y="677.94" font-size="7.8" textLength="97.80" lengthAdjust="spacingAndGlyphs">(from aspartate)|unclassified</text>
<rect x="515.80" y="681.76" width="8.10" height="15.30" fill="#f9a51a"/>
<text x="366.30" y="687.96" font-size="7.8" textLength="121.20" lengthAdjust="spacingAndGlyphs">PANTO−PWY: phosphopantothenate</text>
<text x="399.20" y="694.96" font-size="7.8" textLength="88.30" lengthAdjust="spacingAndGlyphs">biosynthesis I|unclassified</text>
<rect x="515.80" y="698.78" width="7.40" height="15.30" fill="#f9a51a"/>
<text x="312.40" y="708.98" font-size="7.8" textLength="175.10" lengthAdjust="spacingAndGlyphs">PWY−5973: cis−vaccenate biosynthesis|unclassified</text>
<rect x="500.30" y="715.80" width="15.50" height="15.30" fill="#7e51a2"/>
<text x="335.50" y="722.00" font-size="7.8" textLength="152.00" lengthAdjust="spacingAndGlyphs">PWY−7199: pyrimidine deoxyribonucleosides</text>
<text x="418.70" y="729.00" font-size="7.8" textLength="68.80" lengthAdjust="spacingAndGlyphs">salvage|unclassified</text>
<rect x="496.10" y="732.82" width="19.70" height="15.30" fill="#7e51a2"/>
<text x="301.40" y="743.02" font-size="7.8" textLength="186.10" lengthAdjust="spacingAndGlyphs">PWY−6353: purine nucleotides degradation II (aerobic)</text>
<rect x="495.80" y="749.84" width="20.00" height="15.30" fill="#7e51a2"/>
<text x="382.20" y="756.04" font-size="7.8" textLength="105.30" lengthAdjust="spacingAndGlyphs">P164−PWY: purine nucleobases</text>
<text x="401.30" y="763.04" font-size="7.8" textLength="86.20" lengthAdjust="spacingAndGlyphs">degradation I (anaerobic)</text>
<rect x="495.60" y="766.86" width="20.20" height="15.30" fill="#7e51a2"/>
<text x="319.30" y="777.06" font-size="7.8" textLength="168.20" lengthAdjust="spacingAndGlyphs">PWY−6606: guanosine nucleotides degradation II</text>
<rect x="494.40" y="783.88" width="21.40" height="15.30" fill="#7e51a2"/>
<text x="309.50" y="794.08" font-size="7.8" textLength="178.00" lengthAdjust="spacingAndGlyphs">PWY−6823: molybdopterin biosynthesis|unclassified</text>
<line x1="496.30" y1="801.20" x2="496.30" y2="804.40" stroke="#888" stroke-width="0.6"/>
<text x="496.30" y="813.50" font-size="7.6" text-anchor="middle">−1.0</text>
<line x1="515.60" y1="801.20" x2="515.60" y2="804.40" stroke="#888" stroke-width="0.6"/>
<text x="515.60" y="813.50" font-size="7.6" text-anchor="middle">0</text>
<line x1="535.30" y1="801.20" x2="535.30" y2="804.40" stroke="#888" stroke-width="0.6"/>
<text x="535.30" y="813.50" font-size="7.6" text-anchor="middle">1.0</text>
<text x="484.50" y="826.00" font-size="9" textLength="65.60" lengthAdjust="spacingAndGlyphs">log<tspan font-size="6" dy="2">2</tspan><tspan dy="-2"> fold change</tspan></text>
<text x="562.20" y="440.40" font-size="13.8" font-weight="bold" fill="#111">h</text>
<text x="588.20" y="452.50" font-size="9" textLength="95.90" lengthAdjust="spacingAndGlyphs">β-glucuronidase activity</text>
<rect x="598.30" y="458.60" width="77.20" height="144.80" fill="none" stroke="#a8a8a8" stroke-width="0.8"/>
<line x1="594.70" y1="600.60" x2="598.30" y2="600.60" stroke="#a8a8a8" stroke-width="0.8"/>
<text x="591.10" y="603.10" font-size="7.3" text-anchor="end">0</text>
<line x1="594.70" y1="577.57" x2="598.30" y2="577.57" stroke="#a8a8a8" stroke-width="0.8"/>
<text x="591.10" y="580.07" font-size="7.3" text-anchor="end">1</text>
<line x1="594.70" y1="554.54" x2="598.30" y2="554.54" stroke="#a8a8a8" stroke-width="0.8"/>
<text x="591.10" y="557.04" font-size="7.3" text-anchor="end">2</text>
<line x1="594.70" y1="531.51" x2="598.30" y2="531.51" stroke="#a8a8a8" stroke-width="0.8"/>
<text x="591.10" y="534.01" font-size="7.3" text-anchor="end">3</text>
<line x1="594.70" y1="508.48" x2="598.30" y2="508.48" stroke="#a8a8a8" stroke-width="0.8"/>
<text x="591.10" y="510.98" font-size="7.3" text-anchor="end">4</text>
<line x1="594.70" y1="485.45" x2="598.30" y2="485.45" stroke="#a8a8a8" stroke-width="0.8"/>
<text x="591.10" y="487.95" font-size="7.3" text-anchor="end">5</text>
<line x1="594.70" y1="462.42" x2="598.30" y2="462.42" stroke="#a8a8a8" stroke-width="0.8"/>
<text x="591.10" y="464.92" font-size="7.3" text-anchor="end">6</text>
<line x1="618.60" y1="603.40" x2="618.60" y2="607.20" stroke="#a8a8a8" stroke-width="0.8"/>
<line x1="654.60" y1="603.40" x2="654.60" y2="607.20" stroke="#a8a8a8" stroke-width="0.8"/>
<text x="636.40" y="468.30" font-size="7.3" text-anchor="middle" textLength="27.00" lengthAdjust="spacingAndGlyphs"><tspan font-style="italic">P</tspan> = 0.317</text>
<path d="M618.6 564.5 V548.4 M618.6 583.5 V600.6 M654.6 502.2 V489.9 M654.6 588.8 V600.6" stroke="#333" stroke-width="0.6" stroke-dasharray="2 1.8" fill="none"/>
<line x1="612.90" y1="548.40" x2="624.80" y2="548.40" stroke="#777" stroke-width="0.6"/>
<line x1="612.90" y1="600.60" x2="624.80" y2="600.60" stroke="#777" stroke-width="0.6"/>
<line x1="648.60" y1="489.90" x2="660.70" y2="489.90" stroke="#777" stroke-width="0.6"/>
<line x1="648.60" y1="600.60" x2="660.70" y2="600.60" stroke="#777" stroke-width="0.6"/>
<rect x="606.20" y="564.50" width="24.70" height="19.00" fill="#7e51a2" stroke="#333" stroke-width="0.5"/>
<line x1="606.20" y1="577.40" x2="630.90" y2="577.40" stroke="#111" stroke-width="2"/>
<rect x="642.30" y="502.20" width="24.30" height="86.60" fill="#f9a51a" stroke="#333" stroke-width="0.5"/>
<line x1="642.30" y1="548.00" x2="666.60" y2="548.00" stroke="#111" stroke-width="2"/>
<circle cx="618.60" cy="548.40" r="1.85" fill="#111" stroke="#fff" stroke-width="0.45"/>
<circle cx="618.60" cy="564.90" r="1.85" fill="#111" stroke="#fff" stroke-width="0.45"/>
<circle cx="618.60" cy="576.60" r="1.85" fill="#111" stroke="#fff" stroke-width="0.45"/>
<circle cx="618.60" cy="580.70" r="1.85" fill="#111" stroke="#fff" stroke-width="0.45"/>
<circle cx="618.60" cy="586.40" r="1.85" fill="#111" stroke="#fff" stroke-width="0.45"/>
<circle cx="618.60" cy="600.60" r="1.85" fill="#111" stroke="#fff" stroke-width="0.45"/>
<circle cx="654.60" cy="489.90" r="1.85" fill="#111" stroke="#fff" stroke-width="0.45"/>
<circle cx="654.60" cy="502.30" r="1.85" fill="#111" stroke="#fff" stroke-width="0.45"/>
<circle cx="654.60" cy="538.30" r="1.85" fill="#111" stroke="#fff" stroke-width="0.45"/>
<circle cx="654.60" cy="558.50" r="1.85" fill="#111" stroke="#fff" stroke-width="0.45"/>
<circle cx="654.60" cy="588.80" r="1.85" fill="#111" stroke="#fff" stroke-width="0.45"/>
<circle cx="654.60" cy="600.60" r="1.85" fill="#111" stroke="#fff" stroke-width="0.45"/>
<text x="618.90" y="617.70" font-size="8.2" text-anchor="middle" textLength="28.50" lengthAdjust="spacingAndGlyphs">FMT-YF</text>
<text x="618.75" y="626.80" font-size="8.2" text-anchor="middle" textLength="24.30" lengthAdjust="spacingAndGlyphs">(<tspan font-style="italic">n</tspan> = 6)</text>
<text x="655.00" y="617.70" font-size="8.2" text-anchor="middle" textLength="28.50" lengthAdjust="spacingAndGlyphs">FMT-EF</text>
<text x="654.85" y="626.80" font-size="8.2" text-anchor="middle" textLength="24.30" lengthAdjust="spacingAndGlyphs">(<tspan font-style="italic">n</tspan> = 6)</text>
<text x="571.40" y="531.40" font-size="8.6" text-anchor="middle" textLength="95.80" lengthAdjust="spacingAndGlyphs" transform="rotate(-90 571.40 531.40)">β-glucuronidase activity</text>
<text x="579.50" y="530.70" font-size="8.6" text-anchor="middle" textLength="48.60" lengthAdjust="spacingAndGlyphs" transform="rotate(-90 579.50 530.70)">(normalized)</text>
</svg></body></html>
